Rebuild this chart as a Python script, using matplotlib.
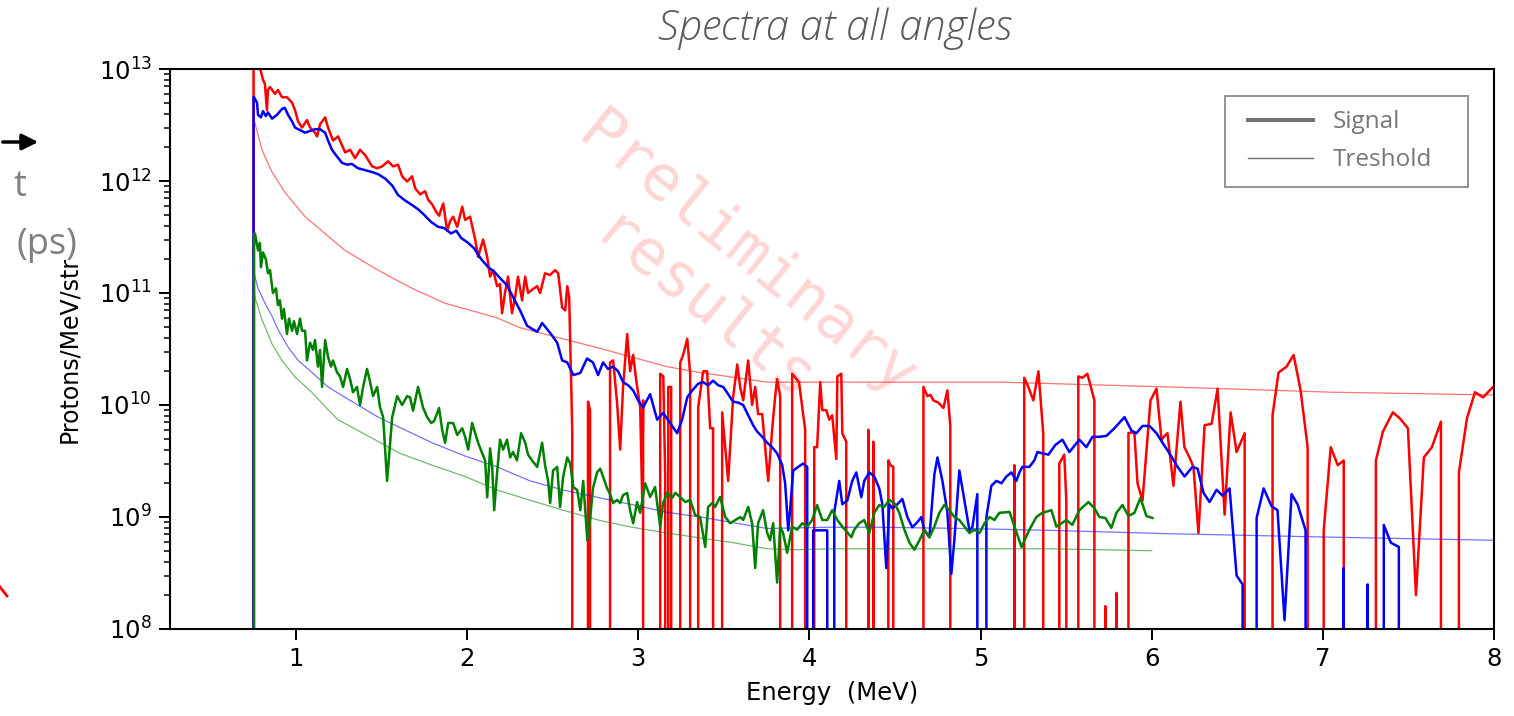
import numpy as np
import matplotlib
matplotlib.use("Agg")
import matplotlib.pyplot as plt
from matplotlib.lines import Line2D
from matplotlib.patches import Rectangle

# ---------------- spectra (energy in MeV, protons/MeV/str) ----------------
red_sig_e = [0.749, 0.752, 0.783, 0.795, 0.807, 0.818, 0.830, 0.836, 0.848, 0.877,
             0.894, 0.918, 0.947, 0.977, 0.994, 1.012, 1.035, 1.064, 1.082, 1.111,
             1.123, 1.140, 1.170, 1.187, 1.216, 1.246, 1.287, 1.316, 1.345, 1.374,
             1.404, 1.445, 1.474, 1.503, 1.538, 1.567, 1.596, 1.620, 1.649, 1.678,
             1.696, 1.725, 1.754, 1.772, 1.795, 1.819, 1.836, 1.860, 1.883, 1.901,
             1.918, 1.942, 1.971, 1.988, 2.017, 2.047, 2.064, 2.093, 2.117, 2.134,
             2.152, 2.175, 2.192, 2.204, 2.221, 2.239, 2.262, 2.280, 2.297, 2.321,
             2.339, 2.356, 2.379, 2.409, 2.426, 2.455, 2.485, 2.514, 2.532, 2.555,
             2.573, 2.585, 2.596, 2.614, 2.620,
             2.700, 2.706, 2.718, 2.729,
             2.824, 2.835, 2.853, 2.876, 2.894, 2.911, 2.935, 2.952, 2.970, 2.987,
             3.011, 3.023, 3.028, 3.040,
             3.122, 3.128, 3.146, 3.157, 3.169, 3.175, 3.192, 3.198,
             3.227, 3.245, 3.262, 3.286, 3.303, 3.315,
             3.344, 3.350, 3.379, 3.402, 3.420, 3.437, 3.449,
             3.484, 3.490, 3.508, 3.525, 3.554, 3.578, 3.595, 3.613, 3.642, 3.665,
             3.683, 3.700, 3.724, 3.741, 3.759, 3.782, 3.800, 3.811, 3.829, 3.846,
             3.887, 3.899, 3.939, 3.975, 3.987,
             4.022, 4.028, 4.045, 4.063, 4.075, 4.098, 4.116, 4.133, 4.157, 4.163,
             4.186, 4.192, 4.215, 4.221,
             4.338, 4.344, 4.356, 4.367, 4.373, 4.385,
             4.455, 4.461, 4.473, 4.490, 4.502,
             4.660, 4.666, 4.689, 4.707, 4.724, 4.753, 4.783, 4.806, 4.823, 4.853,
             5.191, 5.197, 5.209,
             5.249, 5.255, 5.279, 5.308, 5.338, 5.366, 5.372,
             5.454, 5.460, 5.489, 5.501, 5.507,
             5.566, 5.571, 5.595, 5.624, 5.665, 5.671,
             5.724, 5.729, 5.735, 5.788, 5.794, 5.800,
             5.858, 5.864, 5.881, 5.899, 5.917, 5.946, 5.993, 6.028, 6.057, 6.075,
             6.092, 6.127, 6.168, 6.191, 6.221, 6.244, 6.273, 6.309, 6.350, 6.385,
             6.426, 6.461, 6.496, 6.543, 6.549,
             6.700, 6.706, 6.741, 6.788, 6.829, 6.870, 6.911, 6.917,
             6.999, 7.005, 7.046, 7.087, 7.122, 7.128,
             7.304, 7.310, 7.351, 7.409, 7.450, 7.497, 7.544, 7.590, 7.637, 7.690,
             7.696, 7.789, 7.795, 7.842, 7.889, 7.936, 7.995]
red_sig = [0, 2.0e13, 1.1e13, 9.5e12, 8.0e12, 7.4e12, 4.3e12, 6.5e12, 6.9e12, 6.0e12,
           6.5e12, 5.6e12, 5.6e12, 5.0e12, 4.3e12, 3.4e12, 3.0e12, 3.5e12, 3.0e12, 2.7e12,
           2.5e12, 3.2e12, 3.7e12, 3.0e12, 2.3e12, 2.5e12, 1.8e12, 1.9e12, 1.6e12, 1.9e12,
           1.7e12, 1.35e12, 1.3e12, 1.35e12, 1.5e12, 1.35e12, 1.4e12, 1.1e12, 9.9e11, 1.1e12,
           8.6e11, 7.6e11, 8.1e11, 6.8e11, 6.2e11, 5.3e11, 4.9e11, 6.3e11, 3.6e11, 4.4e11,
           4.8e11, 3.9e11, 5.9e11, 4.5e11, 4.8e11, 3.0e11, 2.1e11, 3.0e11, 2.1e11, 1.4e11,
           1.6e11, 1.15e11, 1.2e11, 6.6e10, 1.0e11, 1.4e11, 6.6e10, 9.2e10, 1.4e11, 8.6e10,
           1.4e11, 1.0e11, 1.07e11, 1.15e11, 1.0e11, 1.5e11, 1.45e11, 1.6e11, 1.5e11, 7.4e10,
           7.0e10, 1.15e11, 9.2e10, 6.0e9, 0,
           0, 1.07e10, 9.0e9, 0,
           0, 2.4e10, 2.5e10, 1.05e10, 4.0e9, 1.45e10, 4.3e10, 2.0e10, 2.8e10, 1.7e10,
           9.5e9, 1.4e9, 1.1e10, 0,
           0, 1.9e10, 1.8e10, 2.4e9, 0, 1.45e10, 1.45e10, 0,
           0, 2.4e10, 2.8e10, 3.9e10, 1.9e10, 0,
           0, 9.5e9, 2.0e10, 2.0e10, 6.2e9, 6.2e9, 0,
           0, 8.6e9, 4.2e9, 2.1e9, 1.17e10, 2.3e10, 1.45e10, 1.1e10, 2.5e10, 1.0e10,
           1.45e10, 8.3e9, 8.3e9, 4.2e9, 2.1e9, 6.0e9, 1.2e10, 1.7e10, 1.2e10, 0,
           0, 1.9e10, 1.6e10, 6.0e9, 0,
           0, 4.2e9, 4.2e9, 1.6e10, 9.0e9, 9.0e9, 7.4e9, 8.1e9, 3.3e9, 1.8e10,
           1.9e10, 5.6e9, 4.7e9, 0,
           0, 6.0e9, 0, 0, 4.7e9, 0,
           0, 3.2e9, 2.9e9, 2.8e9, 0,
           0, 1.45e10, 1.2e10, 1.23e10, 1.1e10, 1.05e10, 9.4e9, 1.35e10, 6.5e9, 0,
           0, 2.9e9, 0,
           0, 1.75e10, 1.45e10, 1.1e10, 2.0e10, 5.6e9, 0,
           0, 3.0e9, 3.6e9, 1.4e9, 0,
           0, 1.8e10, 1.75e10, 1.9e10, 1.1e10, 0,
           0, 1.6e8, 0, 0, 2.1e8, 0,
           0, 5.6e9, 5.7e9, 5.6e9, 2.0e9, 1.4e9, 1.1e10, 1.4e10, 4.9e9, 5.3e9,
           5.6e9, 1.9e9, 1.07e10, 4.2e9, 3.4e9, 2.8e9, 7.2e8, 6.6e9, 6.8e9, 1.4e10,
           1.05e9, 8.6e9, 3.8e9, 5.6e9, 0,
           0, 8.1e9, 1.95e10, 2.2e10, 2.8e10, 1.35e10, 4.2e9, 0,
           0, 7.6e8, 4.2e9, 2.9e9, 3.2e9, 0,
           0, 3.2e9, 5.8e9, 8.6e9, 7.6e9, 6.2e9, 2.0e8, 3.4e9, 4.2e9, 7.1e9,
           0, 0, 2.5e9, 7.6e9, 1.3e10, 1.17e10, 1.45e10]

blue_sig_e = [0.749, 0.752, 0.755, 0.772, 0.778, 0.795, 0.807, 0.824, 0.836, 0.860,
              0.889, 0.918, 0.935, 0.953, 0.977, 0.994, 1.023, 1.053, 1.082, 1.111,
              1.140, 1.170, 1.187, 1.210, 1.240, 1.269, 1.298, 1.327, 1.362, 1.404,
              1.445, 1.480, 1.521, 1.562, 1.596, 1.637, 1.678, 1.713, 1.742, 1.790,
              1.830, 1.865, 1.906, 1.936, 1.965, 2.006, 2.041, 2.082, 2.123, 2.158,
              2.192, 2.233, 2.268, 2.309, 2.350, 2.368, 2.409, 2.438, 2.485, 2.526,
              2.555, 2.585, 2.620, 2.661, 2.700, 2.735, 2.765, 2.794, 2.823, 2.853,
              2.882, 2.911, 2.941, 2.970, 2.999, 3.028, 3.069, 3.110, 3.145, 3.186,
              3.227, 3.256, 3.286, 3.315, 3.350, 3.379, 3.408, 3.437, 3.467, 3.496,
              3.525, 3.554, 3.584, 3.613, 3.642, 3.671, 3.694, 3.724, 3.753, 3.782,
              3.811, 3.841, 3.858, 3.876, 3.887, 3.905, 3.934, 3.963, 3.987, 4.004,
              4.022, 4.075, 4.104, 4.133, 4.145, 4.174, 4.192, 4.221, 4.250, 4.274,
              4.303, 4.320, 4.350, 4.379, 4.408, 4.426, 4.449, 4.467, 4.484, 4.514,
              4.543, 4.572, 4.601, 4.631, 4.654, 4.672, 4.701, 4.730, 4.748, 4.777,
              4.806, 4.829, 4.847, 4.876, 4.906, 4.935, 4.952, 4.981, 4.985, 5.011,
              5.034, 5.063, 5.093, 5.122, 5.151, 5.180, 5.209, 5.227, 5.244, 5.285,
              5.314, 5.332, 5.361, 5.396, 5.437, 5.478, 5.519, 5.577, 5.618, 5.654,
              5.694, 5.735, 5.782, 5.841, 5.882, 5.911, 5.946, 5.987, 6.028, 6.063,
              6.104, 6.151, 6.192, 6.238, 6.268, 6.303, 6.338, 6.379, 6.414, 6.455,
              6.496, 6.531, 6.549, 6.590, 6.613, 6.654, 6.700, 6.735, 6.776, 6.817,
              6.852, 6.899, 6.905, 7.098, 7.122, 7.145, 7.256, 7.262, 7.268, 7.350,
              7.356, 7.397, 7.444, 7.450, 8.0]
blue_sig = [0, 5.6e12, 5.6e12, 5.0e12, 3.9e12, 3.7e12, 4.2e12, 3.8e12, 4.1e12, 3.6e12,
            3.9e12, 4.4e12, 4.5e12, 3.9e12, 3.4e12, 3.0e12, 2.85e12, 2.7e12, 2.8e12, 2.9e12,
            2.9e12, 2.7e12, 2.3e12, 1.9e12, 1.65e12, 1.45e12, 1.4e12, 1.42e12, 1.3e12, 1.25e12,
            1.2e12, 1.15e12, 1.05e12, 9.1e11, 7.5e11, 6.7e11, 6.1e11, 5.6e11, 5.1e11, 4.3e11,
            3.9e11, 3.8e11, 3.4e11, 3.6e11, 3.1e11, 2.8e11, 2.5e11, 2.0e11, 1.7e11, 1.55e11,
            1.36e11, 1.17e11, 9.2e10, 7.0e10, 5.1e10, 4.9e10, 4.5e10, 5.4e10, 4.4e10, 3.6e10,
            2.5e10, 2.4e10, 1.85e10, 1.93e10, 2.6e10, 2.4e10, 1.85e10, 2.4e10, 2.1e10, 2.2e10,
            2.0e10, 1.6e10, 1.5e10, 1.35e10, 1.1e10, 9.5e9, 1.25e10, 7.4e9, 8.5e9, 6.9e9,
            5.6e9, 7.4e9, 1.17e10, 1.35e10, 1.55e10, 1.6e10, 1.5e10, 1.65e10, 1.5e10, 1.45e10,
            1.25e10, 1.07e10, 1.05e10, 1.0e10, 8.1e9, 6.6e9, 5.8e9, 5.2e9, 4.6e9, 4.2e9,
            3.7e9, 2.9e9, 2.0e9, 7.6e8, 1.15e9, 2.6e9, 2.8e9, 3.0e9, 2.8e9, 0,
            7.6e8, 7.6e8, 7.6e8, 0, 1.1e9, 2.1e9, 1.3e9, 1.4e9, 2.1e9, 2.5e9,
            1.5e9, 2.1e9, 2.5e9, 2.3e9, 1.8e9, 1.3e9, 3.5e8, 1.3e9, 1.2e9, 1.3e9,
            1.45e9, 1.0e9, 8.1e8, 9.0e8, 1.0e9, 7.6e8, 6.6e8, 2.4e9, 3.4e9, 2.1e9,
            1.1e9, 3.1e8, 6.3e8, 2.6e9, 1.4e9, 7.6e8, 8.1e8, 1.6e9, 0, 0,
            1.0e9, 1.9e9, 2.1e9, 2.0e9, 2.3e9, 2.5e9, 2.1e9, 2.5e9, 2.8e9, 2.8e9,
            3.2e9, 3.8e9, 3.7e9, 3.6e9, 4.4e9, 4.9e9, 3.8e9, 4.9e9, 4.2e9, 5.2e9,
            5.2e9, 5.3e9, 6.2e9, 7.8e9, 5.9e9, 5.6e9, 6.5e9, 6.5e9, 5.6e9, 4.6e9,
            3.7e9, 2.8e9, 2.3e9, 2.8e9, 2.7e9, 1.64e9, 1.36e9, 1.75e9, 1.55e9, 1.8e9,
            3.0e8, 2.5e8, 0, 0, 9.8e8, 1.8e9, 1.25e9, 1.15e9, 1.2e8, 1.6e9,
            1.3e9, 7.6e8, 0, 0, 3.5e8, 0, 0, 2.5e8, 0, 0,
            8.5e8, 5.9e8, 5.4e8, 0, 0]

green_sig_e = [0.749, 0.755, 0.760, 0.778, 0.789, 0.795, 0.807, 0.824, 0.836, 0.848,
               0.865, 0.883, 0.894, 0.906, 0.918, 0.929, 0.947, 0.959, 0.977, 0.988,
               1.006, 1.023, 1.035, 1.053, 1.064, 1.082, 1.099, 1.111, 1.128, 1.140,
               1.152, 1.170, 1.187, 1.204, 1.216, 1.240, 1.257, 1.275, 1.298, 1.316,
               1.333, 1.356, 1.374, 1.392, 1.415, 1.433, 1.450, 1.474, 1.491, 1.509,
               1.532, 1.550, 1.562, 1.591, 1.620, 1.649, 1.666, 1.684, 1.713, 1.742,
               1.766, 1.790, 1.807, 1.836, 1.854, 1.871, 1.889, 1.918, 1.942, 1.971,
               1.988, 2.006, 2.029, 2.047, 2.064, 2.088, 2.105, 2.117, 2.134, 2.146,
               2.158, 2.175, 2.192, 2.210, 2.233, 2.251, 2.268, 2.291, 2.315, 2.339,
               2.356, 2.379, 2.409, 2.438, 2.455, 2.473, 2.485, 2.502, 2.526, 2.543,
               2.561, 2.585, 2.602, 2.620, 2.643, 2.661, 2.678, 2.702, 2.718, 2.735,
               2.759, 2.777, 2.794, 2.818, 2.835, 2.853, 2.876, 2.894, 2.911, 2.935,
               2.952, 2.970, 2.993, 3.011, 3.040, 3.069, 3.098, 3.128, 3.145, 3.169,
               3.198, 3.216, 3.245, 3.274, 3.303, 3.332, 3.361, 3.391, 3.408, 3.432,
               3.449, 3.478, 3.508, 3.537, 3.567, 3.596, 3.613, 3.642, 3.665, 3.683,
               3.700, 3.729, 3.753, 3.770, 3.788, 3.811, 3.829, 3.846, 3.870, 3.899,
               3.928, 3.958, 3.987, 4.016, 4.045, 4.075, 4.104, 4.133, 4.163, 4.192,
               4.221, 4.245, 4.262, 4.291, 4.320, 4.350, 4.379, 4.408, 4.437, 4.467,
               4.496, 4.525, 4.555, 4.584, 4.613, 4.643, 4.672, 4.701, 4.730, 4.759,
               4.788, 4.818, 4.847, 4.876, 4.906, 4.935, 4.964, 4.994, 5.023, 5.052,
               5.081, 5.110, 5.169, 5.239, 5.285, 5.326, 5.361, 5.414, 5.443, 5.501,
               5.536, 5.577, 5.630, 5.665, 5.694, 5.729, 5.764, 5.794, 5.829, 5.864,
               5.899, 5.934, 5.969, 6.004]
green_sig = [0, 3.4e11, 3.4e11, 2.4e11, 2.8e11, 1.7e11, 2.3e11, 2.0e11, 1.5e11, 1.6e11,
             1.0e11, 1.1e11, 7.8e10, 8.6e10, 5.9e10, 7.2e10, 4.3e10, 5.9e10, 4.6e10, 5.6e10,
             4.3e10, 5.9e10, 4.6e10, 4.6e10, 2.5e10, 3.6e10, 3.1e10, 3.8e10, 2.2e10, 3.1e10,
             1.45e10, 3.8e10, 2.7e10, 2.2e10, 2.5e10, 1.95e10, 1.8e10, 1.45e10, 2.1e10, 1.7e10,
             1.3e10, 1.45e10, 1.0e10, 1.45e10, 2.1e10, 1.6e10, 1.2e10, 1.45e10, 9.5e9, 7.8e9,
             2.1e9, 4.6e9, 7.8e9, 1.2e10, 1.0e10, 1.2e10, 1.17e10, 8.9e9, 1.45e10, 9.5e9,
             7.8e9, 6.9e9, 7.2e9, 9.4e9, 6.0e9, 4.6e9, 6.9e9, 6.9e9, 5.4e9, 6.2e9,
             5.2e9, 4.0e9, 6.9e9, 5.6e9, 4.6e9, 3.7e9, 3.2e9, 1.5e9, 4.1e9, 2.8e9,
             1.15e9, 2.5e9, 4.9e9, 4.0e9, 4.9e9, 3.4e9, 3.8e9, 3.2e9, 5.6e9, 4.6e9,
             3.6e9, 3.2e9, 2.8e9, 4.6e9, 2.9e9, 2.1e9, 1.33e9, 2.6e9, 2.8e9, 1.23e9,
             2.3e9, 3.4e9, 3.0e9, 1.85e9, 1.74e9, 1.15e9, 2.1e9, 6.2e8, 9.4e8, 1.8e9,
             2.5e9, 2.7e9, 2.3e9, 1.8e9, 1.6e9, 1.33e9, 1.42e9, 1.33e9, 1.57e9, 1.64e9,
             1.15e9, 8.8e8, 1.36e9, 1.09e9, 2.0e9, 1.51e9, 1.85e9, 8.2e8, 1.33e9, 1.64e9,
             1.48e9, 1.64e9, 1.51e9, 1.36e9, 1.42e9, 1.04e9, 1.0e9, 5.4e8, 1.23e9, 1.33e9,
             1.23e9, 1.51e9, 1.0e9, 8.8e8, 9.4e8, 1.0e9, 9.4e8, 1.23e9, 8.8e8, 3.5e8,
             8.8e8, 1.15e9, 7.2e8, 6.2e8, 8.8e8, 2.6e8, 8.2e8, 7.2e8, 4.8e8, 8.2e8,
             7.7e8, 8.8e8, 8.2e8, 9.4e8, 1.28e9, 9.4e8, 9.4e8, 1.15e9, 9.4e8, 8.2e8,
             7.3e8, 6.6e8, 7.7e8, 8.8e8, 9.4e8, 7.2e8, 1.09e9, 1.28e9, 1.23e9, 1.42e9,
             1.33e9, 1.09e9, 7.7e8, 5.9e8, 5.1e8, 6.2e8, 7.7e8, 6.6e8, 8.2e8, 1.09e9,
             1.28e9, 1.15e9, 1.0e9, 9.4e8, 8.2e8, 7.2e8, 7.7e8, 7.2e8, 8.8e8, 1.0e9,
             9.4e8, 1.09e9, 1.11e9, 5.4e8, 7.7e8, 1.0e9, 1.09e9, 1.15e9, 8.2e8, 9.4e8,
             8.5e8, 1.15e9, 1.36e9, 1.2e9, 1.0e9, 9.8e8, 8.0e8, 1.09e9, 1.28e9, 1.02e9,
             1.09e9, 1.48e9, 1.02e9, 9.8e8]

# ---------------- detection thresholds ----------------
red_thr_e = [0.749, 0.760, 0.801, 0.860, 0.936, 1.053, 1.286, 1.479, 1.678, 1.871,
             2.175, 2.309, 2.777, 3.168, 3.361, 3.753, 4.530, 5.114, 6.090, 7.061, 7.996]
red_thr = [3.5e12, 3.3e12, 1.9e12, 1.2e12, 7.9e11, 4.8e11, 2.4e11, 1.6e11, 1.1e11, 8.1e10,
           6.0e10, 4.9e10, 3.2e10, 2.2e10, 1.95e10, 1.6e10, 1.6e10, 1.6e10, 1.45e10, 1.3e10, 1.23e10]

blue_thr_e = [0.749, 0.755, 0.778, 0.819, 0.860, 0.895, 0.953, 1.012, 1.094, 1.187,
              1.286, 1.386, 1.479, 1.795, 1.988, 2.175, 2.368, 2.561, 2.777, 2.964,
              3.168, 3.361, 3.554, 3.753, 4.110, 4.410, 4.900, 5.400, 6.090, 7.060, 8.0]
blue_thr = [2.0e11, 1.5e11, 1.1e11, 8.1e10, 6.2e10, 4.7e10, 3.3e10, 2.5e10, 1.95e10, 1.45e10,
            1.17e10, 9.5e9, 7.8e9, 4.6e9, 3.5e9, 2.8e9, 2.1e9, 1.74e9, 1.48e9, 1.29e9,
            1.1e9, 1.0e9, 8.9e8, 7.9e8, 8.1e8, 8.1e8, 7.9e8, 7.6e8, 7.1e8, 6.6e8, 6.2e8]

green_thr_e = [0.752, 0.760, 0.801, 0.860, 0.918, 0.994, 1.094, 1.187, 1.245, 1.608,
               1.795, 1.988, 2.175, 2.368, 2.561, 2.777, 2.964, 3.168, 3.361, 3.554,
               3.753, 3.946, 4.110, 5.110, 5.400, 6.0]
green_thr = [1.26e11, 9.1e10, 5.8e10, 3.5e10, 2.5e10, 1.78e10, 1.29e10, 9.1e9, 7.4e9, 3.7e9,
             2.9e9, 2.3e9, 1.74e9, 1.41e9, 1.15e9, 9.3e8, 8.1e8, 7.2e8, 6.5e8, 5.9e8,
             5.2e8, 5.1e8, 5.2e8, 5.2e8, 5.2e8, 5.0e8]

x_ticks = [1, 2, 3, 4, 5, 6, 7, 8]
legend_labels = ["Signal", "Treshold"]

# ---------------- figure ----------------
W, H = 1514, 716
fig = plt.figure(figsize=(W / 100, H / 100), dpi=100)
ax = fig.add_axes([170 / W, 1 - 629 / H, 1324 / W, 560 / H])
ax.set_yscale("log")

sig_lw, thr_lw, thr_alpha = 1.8, 0.9, 0.55
ax.plot(red_sig_e, red_sig, color="red", lw=sig_lw)
ax.plot(red_thr_e, red_thr, color="red", lw=thr_lw, alpha=thr_alpha)
ax.plot(blue_sig_e, blue_sig, color="blue", lw=sig_lw)
ax.plot(blue_thr_e, blue_thr, color="blue", lw=thr_lw, alpha=thr_alpha)
ax.plot(green_sig_e, green_sig, color="green", lw=sig_lw)
ax.plot(green_thr_e, green_thr, color="green", lw=thr_lw, alpha=thr_alpha)

ax.set_xlim(0.2636, 8.0)
ax.set_ylim(1e8, 1e13)
ax.set_xticks(x_ticks)
ax.set_xticklabels([str(t) for t in x_ticks])

ax.tick_params(axis="both", which="major", length=8, width=1.4, labelsize=17.5, pad=5)
ax.tick_params(axis="y", which="minor", length=4.5, width=1.1)
for s in ax.spines.values():
    s.set_linewidth(1.5)

ax.set_xlabel("Energy  (MeV)", fontsize=17.5)
ax.set_ylabel("Protons/MeV/str", fontsize=17)
ax.xaxis.set_label_coords(0.5, -0.092)
ax.yaxis.set_label_coords(-0.067, 0.5)

# legend box drawn in figure pixels
grey = "#6e6e6e"
px = lambda x, y: (x / W, 1 - y / H)
fig.add_artist(Rectangle(px(1225, 187), 243 / W, 91 / H, transform=fig.transFigure,
                         facecolor="white", edgecolor="#8a8a8a", lw=1.3, zorder=5))
for (y, lw), lab in zip([(120, 2.8), (158, 1.0)], legend_labels):
    fig.add_artist(Line2D([1248 / W, 1313 / W], [1 - y / H] * 2, color=grey, lw=lw,
                          zorder=6))
    fig.text(1333 / W, 1 - (y + 2) / H, lab, ha="left", va="center", fontsize=17.5,
             family="Open Sans", color="#767676", zorder=6)

# title
fig.text(835 / W, 1 - 29 / H, "Spectra at all angles", ha="center", va="center",
         fontsize=30, style="italic", family="Open Sans", weight="light", color="#5a5a5a")

# watermark
fig.text(725 / W, 1 - 283 / H, "Preliminary\nresults", ha="center", va="center",
         rotation=-39, rotation_mode="anchor", multialignment="center",
         family="DejaVu Sans Mono", fontsize=45, color="red", alpha=0.17)

# overlay on the left margin
ax.annotate("", xy=(41, H - 142), xytext=(0, H - 142), xycoords="figure pixels",
            textcoords="figure pixels",
            arrowprops=dict(arrowstyle="-|>", color="black", lw=2.5, mutation_scale=24),
            annotation_clip=False)
fig.text(20 / W, 1 - 187 / H, "t", ha="center", va="center", fontsize=26,
         family="Open Sans", color="#7f7f7f")
fig.text(47 / W, 1 - 245 / H, "(ps)", ha="center", va="center", fontsize=26,
         family="Open Sans", color="#7f7f7f")
fig.add_artist(Line2D([0, 7 / W], [1 - 587 / H, 1 - 596 / H], color="red", lw=2))

fig.savefig("out.png", dpi=100)
